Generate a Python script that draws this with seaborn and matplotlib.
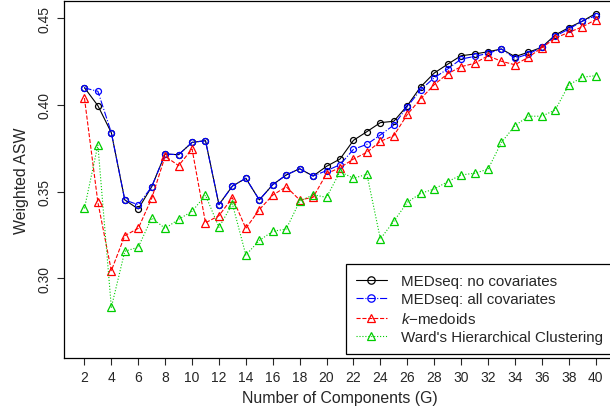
import numpy as np
import pandas as pd
import seaborn as sns
import matplotlib.pyplot as plt
from matplotlib.lines import Line2D

# number of components
G = list(range(2, 41))

# weighted ASW per method
no_cov = [0.410, 0.3996, 0.384, 0.3452, 0.340, 0.3528, 0.3717, 0.3713, 0.3784, 0.3794,
          0.3425, 0.3532, 0.3577, 0.3452, 0.354, 0.3596, 0.3632, 0.359, 0.3646, 0.3688,
          0.3796, 0.3846, 0.3898, 0.3906, 0.3996, 0.4105, 0.4184, 0.4235, 0.4284, 0.4294,
          0.4307, 0.4323, 0.4279, 0.4304, 0.4333, 0.4404, 0.4446, 0.4483, 0.4527]
all_cov = [0.4098, 0.4079, 0.384, 0.3452, 0.3424, 0.3528, 0.3717, 0.3713, 0.3784, 0.3794,
           0.3424, 0.3532, 0.3577, 0.3452, 0.354, 0.3596, 0.3632, 0.359, 0.3621, 0.3655,
           0.3744, 0.3773, 0.3827, 0.3884, 0.399, 0.4088, 0.4157, 0.4207, 0.4265, 0.428,
           0.4298, 0.4323, 0.4269, 0.4294, 0.4333, 0.4397, 0.4438, 0.4483, 0.4515]
kmedoids = [0.404, 0.3438, 0.3044, 0.3246, 0.3288, 0.3461, 0.3704, 0.365, 0.3746, 0.332,
            0.3361, 0.3465, 0.3288, 0.3396, 0.348, 0.3528, 0.3452, 0.3467, 0.3604, 0.3638,
            0.3688, 0.3727, 0.379, 0.3823, 0.3945, 0.4036, 0.4117, 0.418, 0.4221, 0.424,
            0.4284, 0.4252, 0.4232, 0.4275, 0.4330, 0.4386, 0.4419, 0.445, 0.4492]
ward = [0.3403, 0.3769, 0.2832, 0.3156, 0.3179, 0.3348, 0.3288, 0.334, 0.3386, 0.3479,
        0.3294, 0.3429, 0.3134, 0.3218, 0.3271, 0.3284, 0.3444, 0.3482, 0.3467, 0.3615,
        0.3577, 0.360, 0.3227, 0.3329, 0.3438, 0.349, 0.3515, 0.3557, 0.3596, 0.3606,
        0.3629, 0.3784, 0.388, 0.3935, 0.3935, 0.3971, 0.4115, 0.416, 0.4169]

labels = ["MEDseq: no covariates", "MEDseq: all covariates",
          "$k$\u2212medoids", "Ward's Hierarchical Clustering"]
series = [no_cov, all_cov, kmedoids, ward]
colors = ["black", "#0000FF", "#FF0000", "#00CD00"]
styles = ["-", "-.", "--", ":"]
marks = ["o", "o", "^", "^"]

sns.set_style("ticks")
plt.rcParams['font.family'] = ['Liberation Sans', 'DejaVu Sans']
plt.rcParams['mathtext.fontset'] = 'custom'
plt.rcParams['mathtext.it'] = 'Liberation Sans:italic'

fig = plt.figure(figsize=(6.1, 4.14), dpi=100)
ax = fig.add_axes([0.1049, 0.1329, 0.905, 0.8623])

handles = []
for lab, vals, c, ls, m in zip(labels, series, colors, styles, marks):
    df = pd.DataFrame({"G": G, "ASW": vals})
    ms = 4.3 if m == "o" else 5.4
    sns.lineplot(data=df, x="G", y="ASW", ax=ax, color=c, linestyle=ls, linewidth=0.8,
                 marker=m, markersize=ms, markerfacecolor="none",
                 markeredgecolor=c, markeredgewidth=0.9)
    handles.append(Line2D([], [], color=c, linestyle=ls, linewidth=0.8, marker=m,
                          markersize=ms + 1, markerfacecolor="none",
                          markeredgecolor=c, markeredgewidth=0.9))

ax.set_xlim(0.48, 41.52)
ax.set_ylim(0.254, 0.46)
ax.set_xticks(range(2, 41, 2))
ax.set_yticks([0.30, 0.35, 0.40, 0.45])
ax.set_yticklabels(["0.30", "0.35", "0.40", "0.45"], rotation=90, va="center")
ax.tick_params(axis="both", direction="out", length=5, width=0.8, labelsize=10, pad=4)
for sp in ax.spines.values():
    sp.set_visible(True)
    sp.set_linewidth(0.9)
    sp.set_color("black")

ax.set_xlabel("Number of Components (G)", fontsize=11.4, labelpad=4)
ax.set_ylabel("Weighted ASW", fontsize=11.4, labelpad=6)

# legend box runs off the right edge, as in the original
leg = ax.legend(handles, labels, loc="lower left", mode="expand",
                bbox_to_anchor=(345.7 / 610, 1 - 355.3 / 414, 280 / 610, 0.2),
                bbox_transform=fig.transFigure, fontsize=10.9, frameon=True, fancybox=False,
                edgecolor="black", framealpha=1, borderaxespad=0, borderpad=0.65,
                handlelength=2.1, handletextpad=0.9, labelspacing=0.3, numpoints=1)
leg.get_frame().set_linewidth(0.9)

plt.savefig("out.png", dpi=100)
